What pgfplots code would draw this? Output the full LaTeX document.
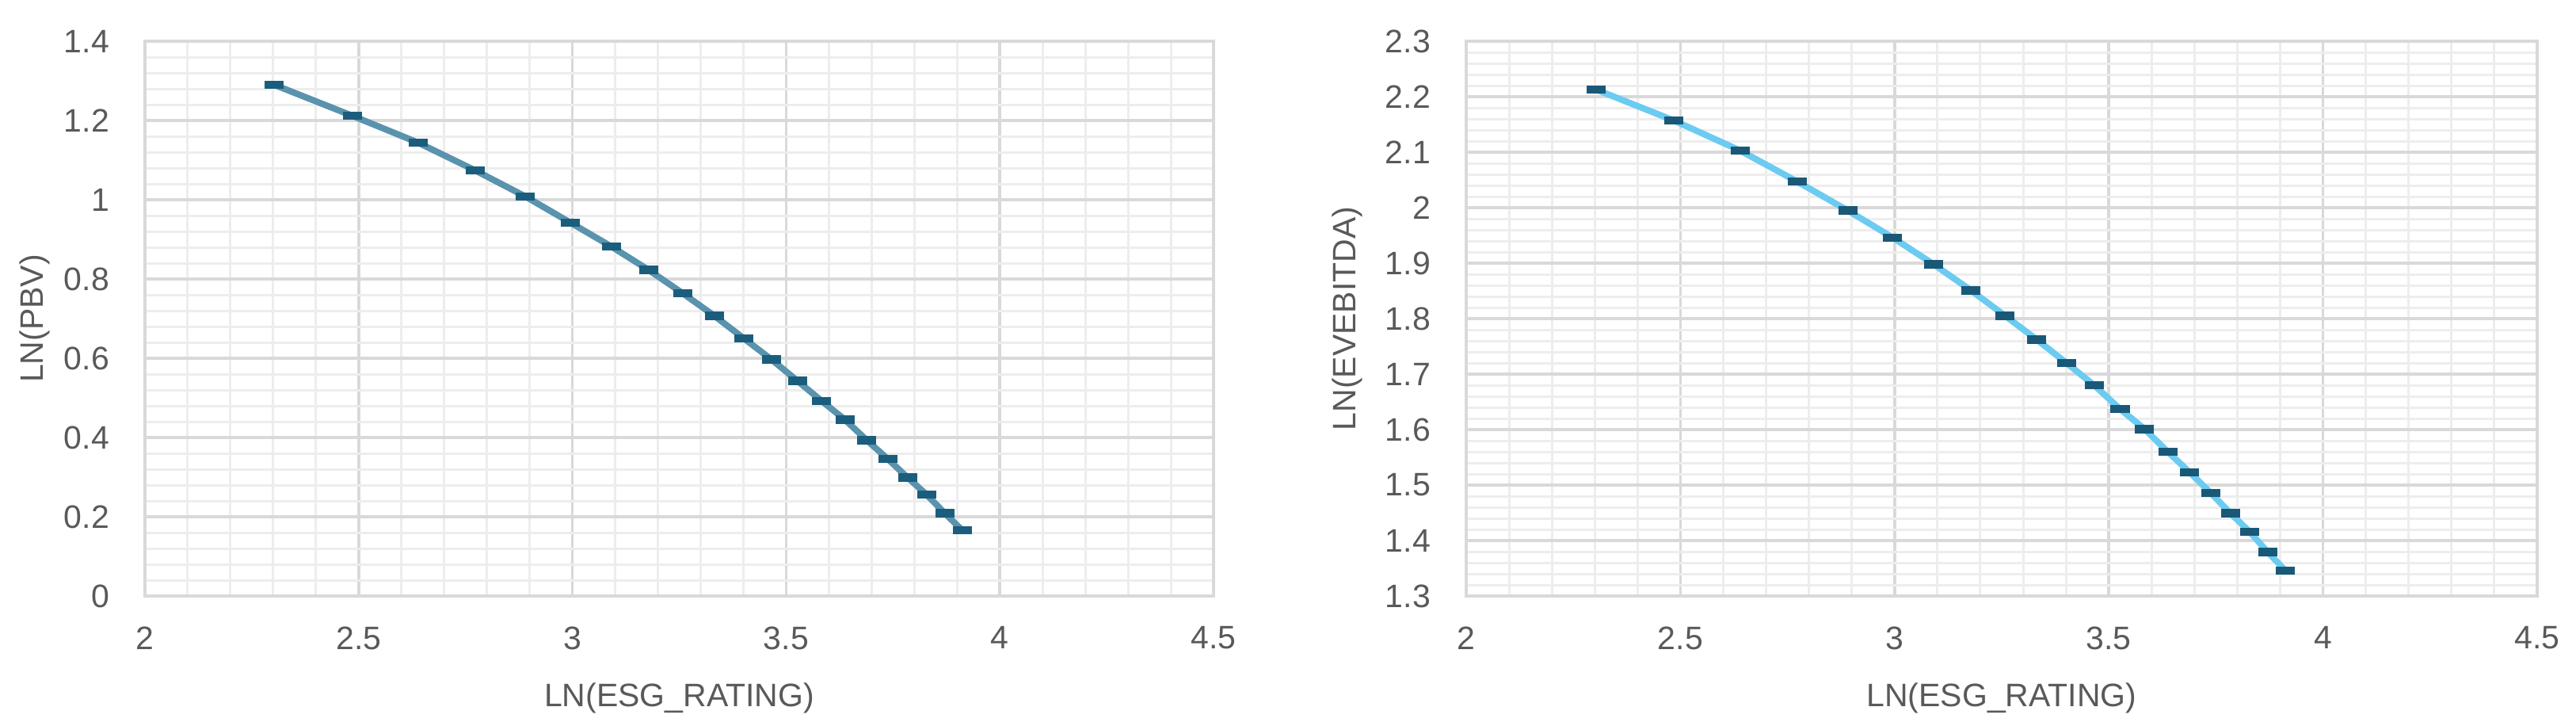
\documentclass[border=0pt]{standalone}
\usepackage{pgfplots}
\pgfplotsset{compat=1.18}
\usepackage{fontspec}
\setmainfont{Liberation Sans}
\definecolor{txt}{HTML}{595959}
\definecolor{majg}{HTML}{D9D9D9}
\definecolor{ming}{HTML}{EDEDED}
\definecolor{lineA}{HTML}{5A93AD}
\definecolor{markA}{HTML}{1B5D7D}
\definecolor{lineB}{HTML}{6CCBF0}
\definecolor{markB}{HTML}{1A5878}
\pgfplotsset{
  common/.style={
    scale only axis, width=269.8pt, height=140pt, anchor=south west,
    xmin=2, xmax=4.5, xtick={2,2.5,...,4.5},
    minor x tick num=4, minor y tick num=4,
    grid=both,
    major grid style={majg, line width=0.7pt},
    minor grid style={ming, line width=0.6pt},
    axis line style={majg, line width=0.7pt},
    major tick length=0pt, minor tick length=0pt,
    tick style={draw=none},
    /pgf/number format/assume math mode=true,
    ticklabel style={font=\fontsize{8.2}{10}\selectfont, text=txt},
    xticklabel style={yshift=-4.2pt},
    yticklabel style={xshift=-5.5pt},
    label style={font=\fontsize{8.2}{10}\selectfont, text=txt},
    xlabel={LN(ESG\_RATING)},
    x label style={at={(axis description cs:0.5,0)}, anchor=center, yshift=-25.8pt},
    y label style={at={(axis description cs:-0.103,0.5)}, anchor=center},
    xticklabel={\pgfmathprintnumber[fixed,precision=1]{\tick}},
  },
}
\begin{document}
\begin{tikzpicture}
\path[use as bounding box] (0,0) rectangle (650.4pt,183pt);
\begin{axis}[common, at={(36.6pt,32.6pt)},
  ymin=0, ymax=1.4, ytick={0,0.2,...,1.4},
  yticklabel={\pgfmathprintnumber[fixed,precision=1]{\tick}},
  ylabel={LN(PBV)}]
\addplot[lineA, line width=1.6pt, mark=-, mark size=2.4pt,
  mark options={markA, line width=2.1pt}] coordinates {
(2.3026,1.290) (2.4849,1.212) (2.6391,1.144) (2.7726,1.074) (2.8904,1.008)
(2.9957,0.942) (3.0910,0.882) (3.1781,0.823) (3.2581,0.764) (3.3322,0.707)
(3.4012,0.650) (3.4657,0.597) (3.5264,0.543) (3.5835,0.492) (3.6376,0.445)
(3.6889,0.393) (3.7377,0.346) (3.7842,0.299) (3.8286,0.256) (3.8712,0.209)
(3.9120,0.166)};
\end{axis}
\begin{axis}[common, at={(370.2pt,32.6pt)}, width=270.4pt,
  ymin=1.3, ymax=2.3, ytick={1.3,1.4,...,2.31},
  yticklabel={\pgfmathprintnumber[fixed,precision=1]{\tick}},
  y label style={at={(axis description cs:-0.111,0.5)}},
  ylabel={LN(EVEBITDA)}]
\addplot[lineB, line width=1.6pt, mark=-, mark size=2.4pt,
  mark options={markB, line width=2.1pt}] coordinates {
(2.3026,2.213) (2.4849,2.157) (2.6391,2.103) (2.7726,2.047) (2.8904,1.995)
(2.9957,1.946) (3.0910,1.898) (3.1781,1.851) (3.2581,1.805) (3.3322,1.762)
(3.4012,1.720) (3.4657,1.680) (3.5264,1.637) (3.5835,1.601) (3.6376,1.560)
(3.6889,1.523) (3.7377,1.486) (3.7842,1.449) (3.8286,1.416) (3.8712,1.379)
(3.9120,1.346)};
\end{axis}
\end{tikzpicture}
\end{document}
